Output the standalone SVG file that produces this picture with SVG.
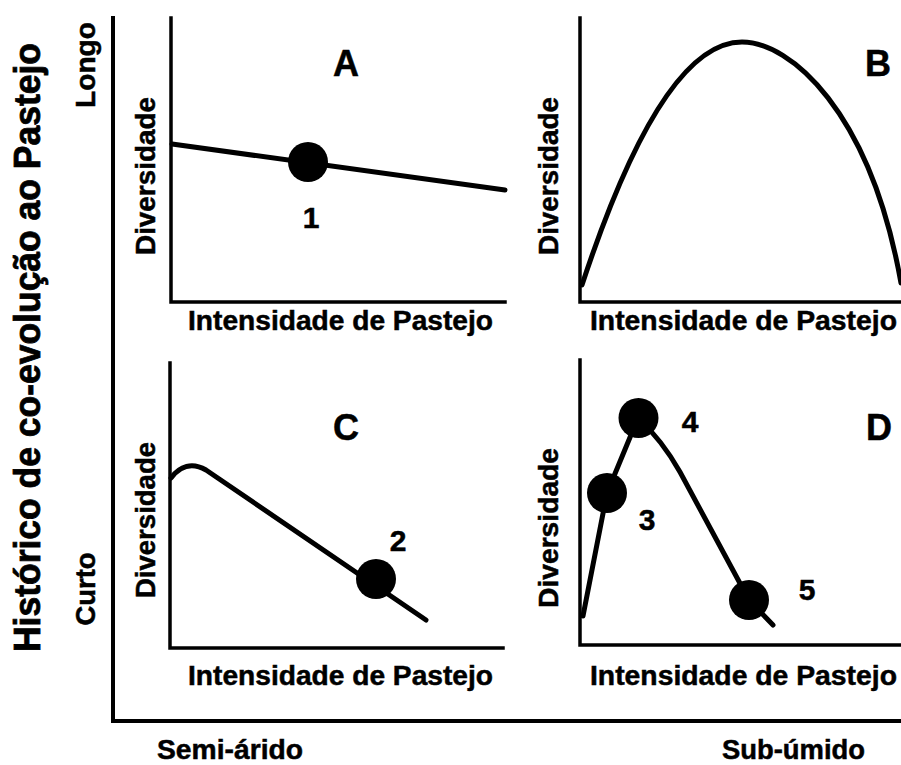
<svg xmlns="http://www.w3.org/2000/svg" width="901" height="765" viewBox="0 0 901 765">
<style>
text{font-family:"Liberation Sans",Arial,sans-serif;font-weight:bold;fill:#000;stroke:#000;stroke-width:0.5}
.ax{stroke:#000;stroke-width:3.5;fill:none;stroke-linecap:square}
.cv{stroke:#000;stroke-width:5;fill:none;stroke-linecap:round;stroke-linejoin:round}
.lbl{font-size:27px}
.big{font-size:36px;text-anchor:middle}
.num{font-size:30px;text-anchor:middle}
.dot{fill:#000}
</style>
<rect width="901" height="765" fill="#fff"/>
<g id="outer">
<path class="ax" d="M113,18 L113,721 L901,721" style="stroke-width:4"/>
<text transform="translate(40,347.5) rotate(-90)" text-anchor="middle" style="font-size:36px;stroke-width:0.8" textLength="609" lengthAdjust="spacingAndGlyphs">Histórico de co-evolução ao Pastejo</text>
<text class="lbl" transform="translate(95,65) rotate(-90)" text-anchor="middle" textLength="86" lengthAdjust="spacingAndGlyphs">Longo</text>
<text class="lbl" transform="translate(95,589) rotate(-90)" text-anchor="middle" textLength="73" lengthAdjust="spacingAndGlyphs">Curto</text>
<text class="lbl" x="157" y="759" textLength="146" lengthAdjust="spacingAndGlyphs">Semi-árido</text>
<text class="lbl" x="722" y="759" textLength="143" lengthAdjust="spacingAndGlyphs">Sub-úmido</text>
</g>
<g id="panelA">
<path class="ax" d="M171,18 L171,302 L505,302"/>
<text class="lbl" transform="translate(155,176) rotate(-90)" text-anchor="middle" textLength="158" lengthAdjust="spacingAndGlyphs">Diversidade</text>
<text class="lbl" x="188" y="330" textLength="305" lengthAdjust="spacingAndGlyphs">Intensidade de Pastejo</text>
<text class="big" x="346" y="76">A</text>
<path class="cv" d="M172,144 L505,190"/>
<circle class="dot" cx="308" cy="162" r="20"/>
<text class="num" x="311" y="228">1</text>
</g>
<g id="panelB">
<path class="ax" d="M580,18 L580,302 L901,302"/>
<text class="lbl" transform="translate(558,176) rotate(-90)" text-anchor="middle" textLength="158" lengthAdjust="spacingAndGlyphs">Diversidade</text>
<text class="lbl" x="590" y="330" textLength="307" lengthAdjust="spacingAndGlyphs">Intensidade de Pastejo</text>
<text class="big" x="878" y="76">B</text>
<path class="cv" d="M582,285 Q662,42 742,42 C790,42 870,110 901,283"/>
</g>
<g id="panelC">
<path class="ax" d="M170,363 L170,648 L503,648"/>
<text class="lbl" transform="translate(155,520) rotate(-90)" text-anchor="middle" textLength="156" lengthAdjust="spacingAndGlyphs">Diversidade</text>
<text class="lbl" x="188" y="685" textLength="305" lengthAdjust="spacingAndGlyphs">Intensidade de Pastejo</text>
<text class="big" x="346" y="440">C</text>
<path class="cv" d="M171,478 C180,466 192,462 206,470 L426,620"/>
<circle class="dot" cx="376" cy="579" r="20"/>
<text class="num" x="398" y="551">2</text>
</g>
<g id="panelD">
<path class="ax" d="M580,360 L580,645 L901,645"/>
<text class="lbl" transform="translate(558,528) rotate(-90)" text-anchor="middle" textLength="160" lengthAdjust="spacingAndGlyphs">Diversidade</text>
<text class="lbl" x="590" y="685" textLength="307" lengthAdjust="spacingAndGlyphs">Intensidade de Pastejo</text>
<text class="big" x="879" y="440">D</text>
<path class="cv" d="M583,616 L607,493 L638,418 Q662,440 680,472 L749,600 L773,625"/>
<circle class="dot" cx="607" cy="493" r="20"/>
<circle class="dot" cx="638.5" cy="418" r="20"/>
<circle class="dot" cx="749" cy="600" r="20"/>
<text class="num" x="647" y="530">3</text>
<text class="num" x="690" y="432">4</text>
<text class="num" x="807" y="600">5</text>
</g>
</svg>
